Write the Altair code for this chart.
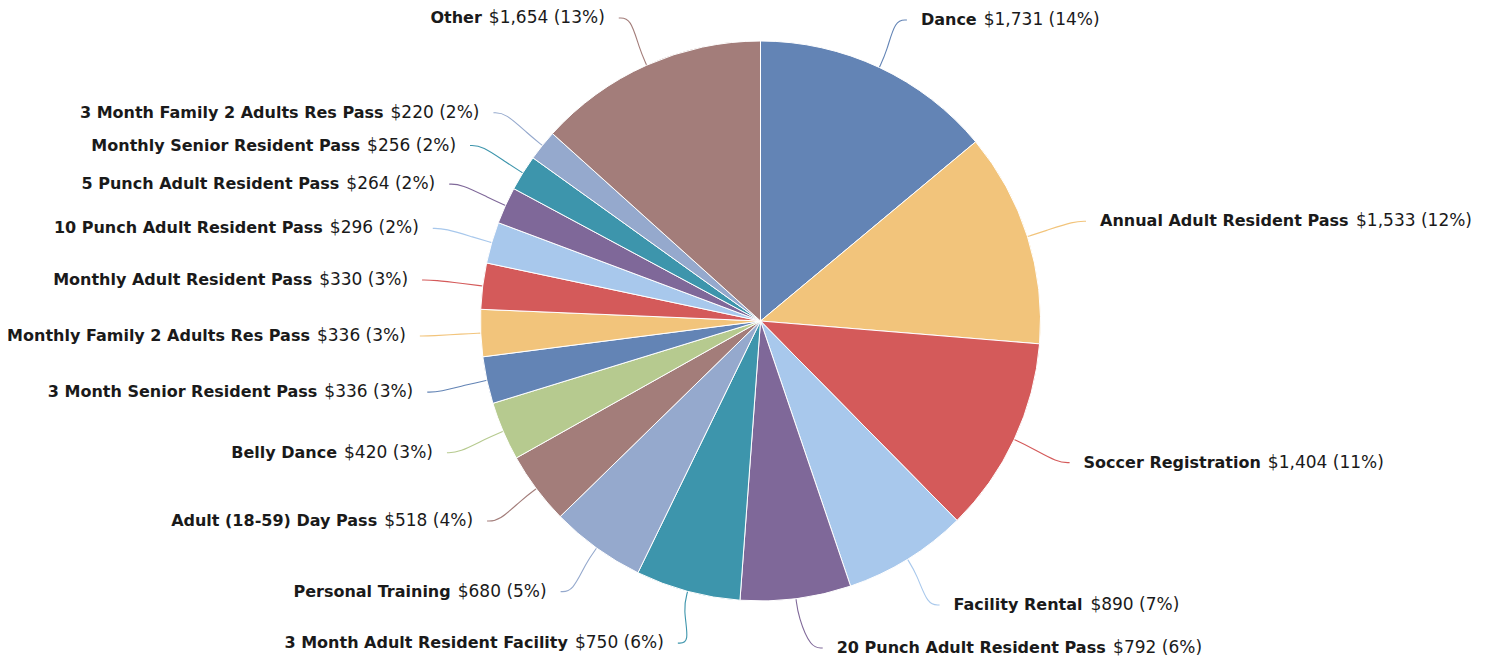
import glob
import struct

import altair as alt
import pandas as pd

# ---------------- data ----------------
names = [
    "Dance",
    "Annual Adult Resident Pass",
    "Soccer Registration",
    "Facility Rental",
    "20 Punch Adult Resident Pass",
    "3 Month Adult Resident Facility",
    "Personal Training",
    "Adult (18-59) Day Pass",
    "Belly Dance",
    "3 Month Senior Resident Pass",
    "Monthly Family 2 Adults Res Pass",
    "Monthly Adult Resident Pass",
    "10 Punch Adult Resident Pass",
    "5 Punch Adult Resident Pass",
    "Monthly Senior Resident Pass",
    "3 Month Family 2 Adults Res Pass",
    "Other",
]
values = [1731, 1533, 1404, 890, 792, 750, 680, 518, 420, 336, 336, 330, 296, 264, 256, 220, 1654]
palette = ["#6384b5", "#f2c47b", "#d45a5a", "#a8c8ec", "#7f6899",
           "#3d95ac", "#95a9cd", "#a37d7a", "#b6ca8f"]
colors = [palette[i % len(palette)] for i in range(len(names))]

# ---------------- style / layout constants ----------------
FONT = "DejaVu Sans"
NAME_SIZE = 16
VALUE_SIZE = 17
GAP = 7
W, H = 1476, 650
CX, CY = 752.5, 313.0      # pie centre inside the plot area
R = 280                    # pie radius
RY = 333                   # vertical label radius
RL = 330                   # label circle used for x placement
XOFF = 25
LY_MIN, LY_MAX = 10, 640


# ---------------- text measuring (font metrics) ----------------
def _ttf_measurer(path):
    with open(path, "rb") as f:
        d = f.read()
    n = struct.unpack(">H", d[4:6])[0]
    tab = {}
    for i in range(n):
        tag, _, off, ln = struct.unpack(">4sIII", d[12 + 16 * i:28 + 16 * i])
        tab[tag.decode("latin-1")] = off
    upem = struct.unpack(">H", d[tab["head"] + 18:tab["head"] + 20])[0]
    nhm = struct.unpack(">H", d[tab["hhea"] + 34:tab["hhea"] + 36])[0]
    hm = tab["hmtx"]
    adv = [struct.unpack(">H", d[hm + 4 * i:hm + 4 * i + 2])[0] for i in range(nhm)]
    cm = tab["cmap"]
    nsub = struct.unpack(">H", d[cm + 2:cm + 4])[0]
    sub = None
    for i in range(nsub):
        pid, eid, off = struct.unpack(">HHI", d[cm + 4 + 8 * i:cm + 12 + 8 * i])
        fmt = struct.unpack(">H", d[cm + off:cm + off + 2])[0]
        if fmt == 4 and pid in (0, 3):
            sub = cm + off
            break
    seg2 = struct.unpack(">H", d[sub + 6:sub + 8])[0]
    seg = seg2 // 2
    ends = struct.unpack(">%dH" % seg, d[sub + 14:sub + 14 + seg2])
    starts = struct.unpack(">%dH" % seg, d[sub + 16 + seg2:sub + 16 + 2 * seg2])
    deltas = struct.unpack(">%dh" % seg, d[sub + 16 + 2 * seg2:sub + 16 + 3 * seg2])
    rpos = sub + 16 + 3 * seg2
    roffs = struct.unpack(">%dH" % seg, d[rpos:rpos + seg2])

    def gid(c):
        for i in range(seg):
            if starts[i] <= c <= ends[i]:
                if roffs[i] == 0:
                    return (c + deltas[i]) & 0xFFFF
                p = rpos + 2 * i + roffs[i] + 2 * (c - starts[i])
                g = struct.unpack(">H", d[p:p + 2])[0]
                return (g + deltas[i]) & 0xFFFF if g else 0
        return 0

    def width(s, size):
        return sum(adv[min(gid(ord(ch)), nhm - 1)] for ch in s) / upem * size

    return width


def _fallback(bold):
    table = {" ": 0.318, ",": 0.318, "(": 0.39, ")": 0.39, "%": 0.95, "$": 0.636, "-": 0.361}

    def width(s, size):
        tot = 0.0
        for ch in s:
            if ch in table:
                w = table[ch]
            elif ch.isdigit():
                w = 0.636
            elif ch.isupper():
                w = 0.75
            else:
                w = 0.6
            tot += w * (1.1 if bold else 1.0)
        return tot * size

    return width


def _find(fname):
    for pat in ["/usr/share/fonts/**/" + fname, "/usr/local/share/fonts/**/" + fname,
                "/root/.fonts/**/" + fname, "/**/fonts/**/" + fname]:
        hits = glob.glob(pat, recursive=True)
        if hits:
            return hits[0]
    return None


try:
    measure_bold = _ttf_measurer(_find("DejaVuSans-Bold.ttf"))
except Exception:
    measure_bold = _fallback(True)
try:
    measure_reg = _ttf_measurer(_find("DejaVuSans.ttf"))
except Exception:
    measure_reg = _fallback(False)

total = sum(values)
vtexts = [f"${v:,} ({round(v / total * 100)}%)" for v in values]

df = pd.DataFrame({
    "idx": list(range(len(names))),
    "name": names,
    "value": values,
    "vtext": vtexts,
    "name_w": [measure_bold(n, NAME_SIZE) for n in names],
    "value_w": [measure_reg(t, VALUE_SIZE) for t in vtexts],
})

color_scale = alt.Scale(domain=names, range=colors)

base = (
    alt.Chart(df)
    .transform_window(cum="sum(value)", sort=[alt.SortField("idx")], frame=[None, 0])
    .transform_joinaggregate(total="sum(value)")
    .transform_calculate(mid="(datum.cum - datum.value/2) / datum.total * 2 * PI")
    .transform_calculate(
        side="sin(datum.mid) >= 0 ? 1 : -1",
        ly=f"clamp({CY + 0.6} - {RY} * cos(datum.mid), {LY_MIN}, {LY_MAX})",
    )
    .transform_calculate(dyc=f"clamp(datum.ly - {CY}, -326, 326)")
    .transform_calculate(
        lx=f"{CX} + datum.side * (sqrt({RL}*{RL} - datum.dyc*datum.dyc) + {XOFF})"
    )
)

arcs = alt.Chart(df).mark_arc(radius=R, stroke="white", strokeWidth=1).encode(
    theta=alt.Theta("value:Q", stack=True),
    order=alt.Order("idx:Q"),
    color=alt.Color("name:N", scale=color_scale, legend=None),
    x=alt.value(CX),
    y=alt.value(CY),
)

conn = (
    base.transform_calculate(
        a0=f"{CX} + {R} * sin(datum.mid)",
        a1=f"{CX} + {R + 18} * sin(datum.mid)",
        a2="datum.lx - datum.side * 26",
        a3="datum.lx - datum.side * 14",
        b0=f"{CY} - {R} * cos(datum.mid)",
        b1=f"{CY} - {R + 18} * cos(datum.mid)",
    )
    .transform_fold(["a0", "a1", "a2", "a3"], as_=["k", "px"])
    .transform_calculate(
        py="datum.k == 'a0' ? datum.b0 : (datum.k == 'a1' ? datum.b1 : datum.ly)",
        step="datum.k == 'a0' ? 0 : (datum.k == 'a1' ? 1 : (datum.k == 'a2' ? 2 : 3))",
    )
    .mark_line(interpolate="basis", strokeWidth=1.1)
    .encode(
        x=alt.X("px:Q", scale=None, axis=None),
        y=alt.Y("py:Q", scale=None, axis=None),
        detail="name:N",
        order=alt.Order("step:Q"),
        color=alt.Color("name:N", scale=color_scale, legend=None),
    )
)

txt_common = dict(font=FONT, baseline="middle", color="#1a1a1a")

right_name = (
    base.transform_filter("datum.side > 0")
    .mark_text(align="left", fontWeight="bold", fontSize=NAME_SIZE, **txt_common)
    .encode(x=alt.X("lx:Q", scale=None, axis=None), y=alt.Y("ly:Q", scale=None, axis=None),
            text="name:N")
)
right_value = (
    base.transform_filter("datum.side > 0")
    .transform_calculate(vx=f"datum.lx + datum.name_w + {GAP}")
    .mark_text(align="left", fontWeight="normal", fontSize=VALUE_SIZE, **txt_common)
    .encode(x=alt.X("vx:Q", scale=None, axis=None), y=alt.Y("ly:Q", scale=None, axis=None),
            text="vtext:N")
)
left_value = (
    base.transform_filter("datum.side < 0")
    .mark_text(align="right", fontWeight="normal", fontSize=VALUE_SIZE, **txt_common)
    .encode(x=alt.X("lx:Q", scale=None, axis=None), y=alt.Y("ly:Q", scale=None, axis=None),
            text="vtext:N")
)
left_name = (
    base.transform_filter("datum.side < 0")
    .transform_calculate(nx=f"datum.lx - datum.value_w - {GAP}")
    .mark_text(align="right", fontWeight="bold", fontSize=NAME_SIZE, **txt_common)
    .encode(x=alt.X("nx:Q", scale=None, axis=None), y=alt.Y("ly:Q", scale=None, axis=None),
            text="name:N")
)

chart = (
    alt.layer(conn, arcs, right_name, right_value, left_value, left_name)
    .properties(width=W, height=H, padding=0, autosize="none")
    .configure_view(stroke=None)
)

chart.save("out.html", embed_options={"renderer": "svg", "actions": False})
